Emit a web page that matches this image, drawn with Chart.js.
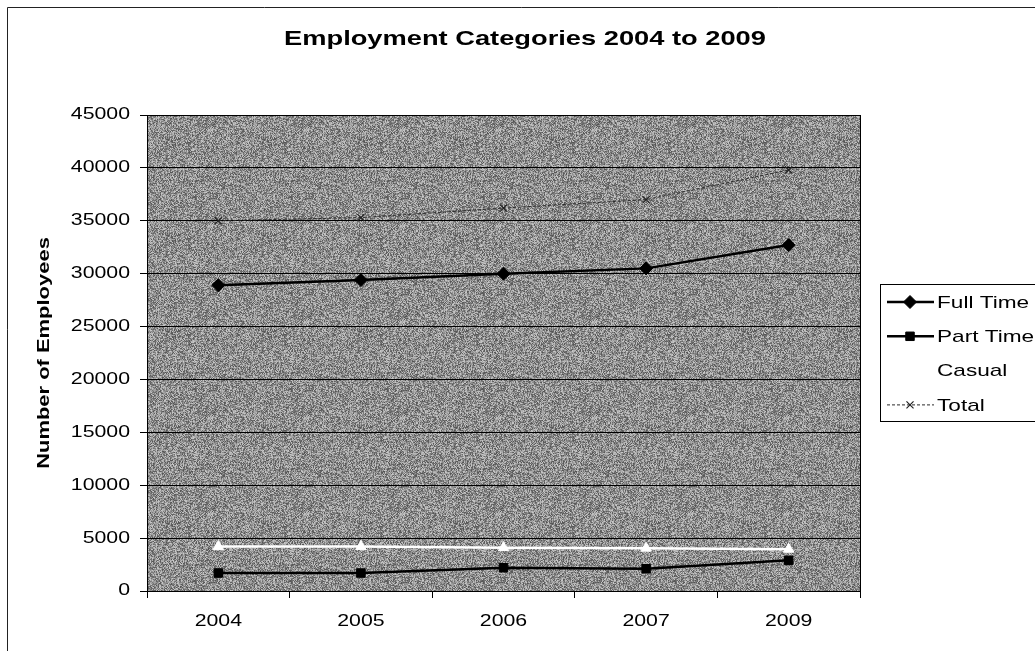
<!DOCTYPE html>
<html>
<head>
<meta charset="utf-8">
<title>Employment Categories 2004 to 2009</title>
<script src="https://cdn.jsdelivr.net/npm/chart.js@4.4.1/dist/chart.umd.min.js"></script>
<style>
  html, body { margin: 0; padding: 0; background: #ffffff; }
  #wrap { width: 1035px; height: 651px; position: relative; }
  canvas { display: block; }
</style>
</head>
<body>
<div id="wrap"><canvas id="chart" width="1035" height="651"></canvas></div>
<script>
// Employees by category and year
const years = ['2004', '2005', '2006', '2007', '2009'];
const fullTime = [28900, 29400, 30000, 30500, 32700];
const partTime = [1700, 1700, 2200, 2100, 2900];
const casual = [4200, 4200, 4100, 4050, 3950];
const total = [35000, 35300, 36200, 37000, 39800];
const yTicks = [0, 5000, 10000, 15000, 20000, 25000, 30000, 35000, 40000, 45000];
const chartTitle = 'Employment Categories 2004 to 2009';
const yTitle = 'Number of Employees';

const FONT = "'Liberation Sans', Arial, Helvetica, sans-serif";
const TEXT_STRETCH = 1.33;   // the chart's lettering is set wide

const canvas = document.getElementById('chart');
const ctx2d = canvas.getContext('2d');

// Widen every glyph run along its own baseline
const nativeFillText = ctx2d.fillText;
ctx2d.fillText = function (text, x, y, maxWidth) {
  this.save();
  this.translate(x, y);
  this.scale(TEXT_STRETCH, 1);
  if (maxWidth === undefined) nativeFillText.call(this, text, 0, 0);
  else nativeFillText.call(this, text, 0, 0, maxWidth / TEXT_STRETCH);
  this.restore();
};

// Speckled grey tile for the plot area
function makeGrain() {
  const tile = document.createElement('canvas');
  tile.width = 96; tile.height = 96;
  const t = tile.getContext('2d');
  const img = t.createImageData(96, 96);
  for (let y = 0; y < 96; y++) {
    for (let x = 0; x < 96; x++) {
      let h = Math.imul(x, 374761393) + Math.imul(y, 668265263);
      h = Math.imul(h ^ (h >>> 13), 1274126177);
      h ^= h >>> 16;
      const g = (h >>> 0) / 4294967296;
      const v = Math.round(142 + (g - 0.5) * 120);
      const i = (y * 96 + x) * 4;
      img.data[i] = img.data[i + 1] = img.data[i + 2] = v;
      img.data[i + 3] = 255;
    }
  }
  t.putImageData(img, 0, 0);
  return ctx2d.createPattern(tile, 'repeat');
}
const grain = makeGrain();

// Plot-area fill, right border, chart frame and heading
const frame = {
  id: 'frame',
  beforeDraw(chart) {
    const { ctx, chartArea: a } = chart;
    ctx.save();
    ctx.fillStyle = grain;
    ctx.fillRect(a.left, a.top, a.right - a.left, a.bottom - a.top);
    ctx.restore();
  },
  afterDraw(chart) {
    const { ctx, chartArea: a } = chart;
    ctx.save();
    ctx.strokeStyle = '#000';
    ctx.lineWidth = 1;
    ctx.beginPath();
    ctx.moveTo(Math.round(a.right) + 0.5, a.top);
    ctx.lineTo(Math.round(a.right) + 0.5, a.bottom);
    ctx.stroke();
    ctx.strokeStyle = '#222';
    ctx.beginPath();
    ctx.moveTo(7.5, 651);
    ctx.lineTo(7.5, 7.5);
    ctx.lineTo(1035, 7.5);
    ctx.stroke();
    ctx.fillStyle = '#000';
    ctx.font = 'bold 20.5px ' + FONT;
    ctx.textAlign = 'center';
    ctx.textBaseline = 'middle';
    ctx.fillText(chartTitle, 525, 39);
    ctx.restore();
  }
};

// Boxed legend beside the plot, styled from each dataset
const sideLegend = {
  id: 'sideLegend',
  afterDraw(chart) {
    const { ctx } = chart;
    const box = { x: 880, y: 284, w: 170, h: 137 };
    ctx.save();
    ctx.strokeStyle = '#000';
    ctx.lineWidth = 1;
    ctx.fillStyle = '#fff';
    ctx.fillRect(box.x, box.y, box.w, box.h);
    ctx.strokeRect(box.x + 0.5, box.y + 0.5, box.w, box.h);
    ctx.font = '17px ' + FONT;
    ctx.textBaseline = 'middle';
    ctx.textAlign = 'left';
    chart.data.datasets.forEach((ds, i) => {
      const cy = 302 + i * 34.3;
      const x0 = 887, x1 = 934, mx = 910;
      ctx.save();
      ctx.strokeStyle = ds.borderColor;
      ctx.lineWidth = ds.borderWidth;
      ctx.setLineDash(ds.borderDash || []);
      ctx.beginPath();
      ctx.moveTo(x0, cy);
      ctx.lineTo(x1, cy);
      ctx.stroke();
      ctx.restore();
      ctx.save();
      ctx.fillStyle = ds.pointBackgroundColor;
      ctx.strokeStyle = ds.pointBorderColor;
      ctx.lineWidth = ds.pointBorderWidth;
      Chart.helpers.drawPoint(ctx, {
        pointStyle: ds.pointStyle, radius: ds.pointRadius,
        borderWidth: ds.pointBorderWidth, rotation: 0
      }, mx, cy);
      ctx.restore();
      ctx.fillStyle = '#000';
      ctx.fillText(ds.label, 937, cy + 1);
    });
    ctx.restore();
  }
};

new Chart(ctx2d, {
  type: 'line',
  data: {
    labels: years,
    datasets: [
      {
        label: 'Full Time', data: fullTime,
        borderColor: '#000', borderWidth: 2.5,
        pointStyle: 'rectRot', pointRadius: 6.5, pointBorderWidth: 1,
        pointBackgroundColor: '#000', pointBorderColor: '#000'
      },
      {
        label: 'Part Time', data: partTime,
        borderColor: '#000', borderWidth: 2.5,
        pointStyle: 'rect', pointRadius: 6, pointBorderWidth: 1,
        pointBackgroundColor: '#000', pointBorderColor: '#000'
      },
      {
        label: 'Casual', data: casual,
        borderColor: '#ffffff', borderWidth: 2.5,
        pointStyle: 'triangle', pointRadius: 6, pointBorderWidth: 1,
        pointBackgroundColor: '#ffffff', pointBorderColor: '#ffffff'
      },
      {
        label: 'Total', data: total,
        borderColor: '#2a2a2a', borderWidth: 1, borderDash: [3, 2],
        pointStyle: 'crossRot', pointRadius: 5, pointBorderWidth: 1.2,
        pointBackgroundColor: '#222', pointBorderColor: '#222'
      }
    ]
  },
  options: {
    responsive: false,
    animation: false,
    devicePixelRatio: 1,
    layout: { padding: { left: 7, right: 175, top: 115, bottom: 0 } },
    plugins: {
      legend: { display: false },
      tooltip: { enabled: false },
      title: { display: false }
    },
    scales: {
      x: {
        type: 'category',
        offset: true,
        grid: { offset: true, drawOnChartArea: false, drawTicks: true, tickLength: 7, color: '#000', lineWidth: 1 },
        border: { display: true, color: '#000', width: 1 },
        ticks: { color: '#000', font: { family: FONT, size: 16 }, padding: 14, maxRotation: 0, autoSkip: false },
        afterFit(scale) { scale.height = 60; }
      },
      y: {
        min: 0, max: 45000,
        afterBuildTicks(scale) { scale.ticks = yTicks.map(v => ({ value: v })); },
        grid: { color: '#000', lineWidth: 1, drawTicks: true, tickLength: 7 },
        border: { display: true, color: '#000', width: 1 },
        ticks: { color: '#000', font: { family: FONT, size: 16 }, padding: 10, callback: v => String(v) },
        title: {
          display: true,
          text: yTitle,
          color: '#000',
          font: { family: FONT, size: 16.5, weight: 'bold' },
          padding: { top: 28, bottom: 0 }
        },
        afterFit(scale) { scale.width = 140; }
      }
    }
  },
  plugins: [frame, sideLegend]
});
</script>
</body>
</html>
